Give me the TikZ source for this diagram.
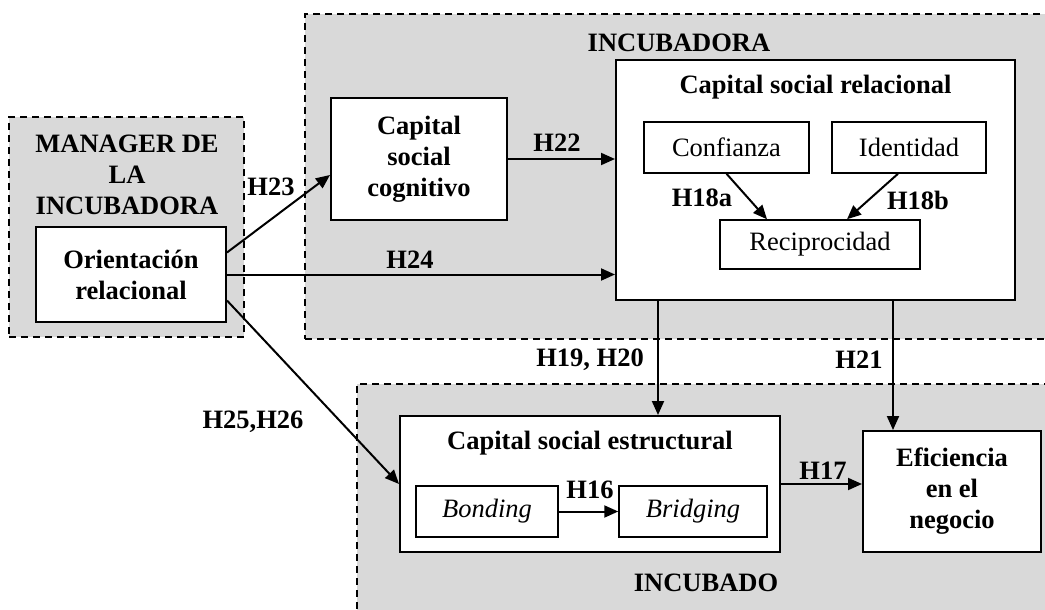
\documentclass[tikz,border=0pt]{standalone}
\usepackage{fontspec}
\setmainfont{Liberation Serif}
\usepackage{xcolor}
\definecolor{zonegray}{HTML}{D9D9D9}
\usetikzlibrary{arrows.meta,positioning,calc}

\begin{document}
\begin{tikzpicture}[x=1pt,y=-1pt,
  every node/.style={align=center,inner sep=0pt,font=\fontsize{26.5}{31}\selectfont\bfseries},
  zone/.style={draw,dash pattern=on 7pt off 5pt,line width=1.8pt,fill=zonegray},
  box/.style={draw,line width=2pt,fill=white},
  sub/.style={draw,line width=1.5pt,fill=white,font=\fontsize{26.5}{31}\selectfont},
  arr/.style={-{Triangle[length=14pt,width=12pt]},line width=2pt}]
  \useasboundingbox (0,0) rectangle (1045,610);

  \node[zone,minimum width=235pt,minimum height=220pt] (mgrzone) at (126.5,227) {};
  \node[zone,minimum width=745pt,minimum height=325pt] (inczone) at (677.5,176.5) {};
  \node[zone,minimum width=693pt,minimum height=232pt] (incdzone) at (703.5,500) {};

  \node (mgrlbl) at (127,175) {MANAGER DE\\LA\\INCUBADORA};
  \node (inclbl) at (679,43) {INCUBADORA};
  \node (incdlbl) at (706,583) {INCUBADO};

  \node[box,minimum width=190pt,minimum height=95pt] (orient) at (131,274.5) {Orientación\\relacional};
  \node[box,minimum width=176pt,minimum height=122pt] (cognit) at (419,159) {Capital\\social\\cognitivo};
  \node[box,minimum width=399pt,minimum height=240pt] (relac) at (815.5,180) {};
  \node (relaclbl) at (815.5,87) {Capital social relacional};
  \node[sub,minimum width=165pt,minimum height=51pt] (confi) at (726.5,147.5) {Confianza};
  \node[sub,minimum width=154pt,minimum height=51pt] (ident) at (909,147.5) {Identidad};
  \node[sub,minimum width=200pt,minimum height=49pt] (recip) at (820,244.5) {Reciprocidad};

  \node[box,minimum width=380pt,minimum height=136pt] (estruc) at (590,484) {};
  \node (estruclbl) at (590,443) {Capital social estructural};
  \node[sub,minimum width=142pt,minimum height=51pt] (bond) at (487,511.5) {\textit{Bonding}};
  \node[sub,minimum width=148pt,minimum height=51pt] (bridg) at (693,511.5) {\textit{Bridging}};
  \node[box,minimum width=178pt,minimum height=121pt] (efic) at (952,491.5) {Eficiencia\\en el\\negocio};

  \draw[arr] ([yshift=22pt]orient.east) -- ([yshift=-16pt]cognit.west);
  \draw[arr] (orient.east) -- (orient.east -| relac.west);
  \draw[arr] (cognit.east) -- (cognit.east -| relac.west);
  \draw[arr] ([yshift=-26pt]orient.east) -- (estruc.west);
  \draw[arr] (confi.south) -- ([xshift=-53pt]recip.north);
  \draw[arr] ([xshift=-11pt]ident.south) -- ([xshift=27pt]recip.north);
  \draw[arr] ([xshift=-157.5pt]relac.south) -- ([xshift=-157.5pt]relac.south |- estruc.north);
  \draw[arr] ([xshift=77.5pt]relac.south) -- ([xshift=77.5pt]relac.south |- efic.north);
  \draw[arr] (bond.east) -- (bridg.west);
  \draw[arr] (estruc.east) -- (estruc.east -| efic.west);

  \node (h23) at (271,187) {H23};
  \node (h22) at (557,143) {H22};
  \node (h24) at (410,260) {H24};
  \node (h18a) at (702,198) {H18a};
  \node (h18b) at (918,200) {H18b};
  \node (h1920) at (590,360) {H19, H20};
  \node (h21) at (859,360) {H21};
  \node (h2526) at (253,422) {H25,H26};
  \node (h16) at (590,490) {H16};
  \node (h17) at (823,471) {H17};
\end{tikzpicture}
\end{document}
